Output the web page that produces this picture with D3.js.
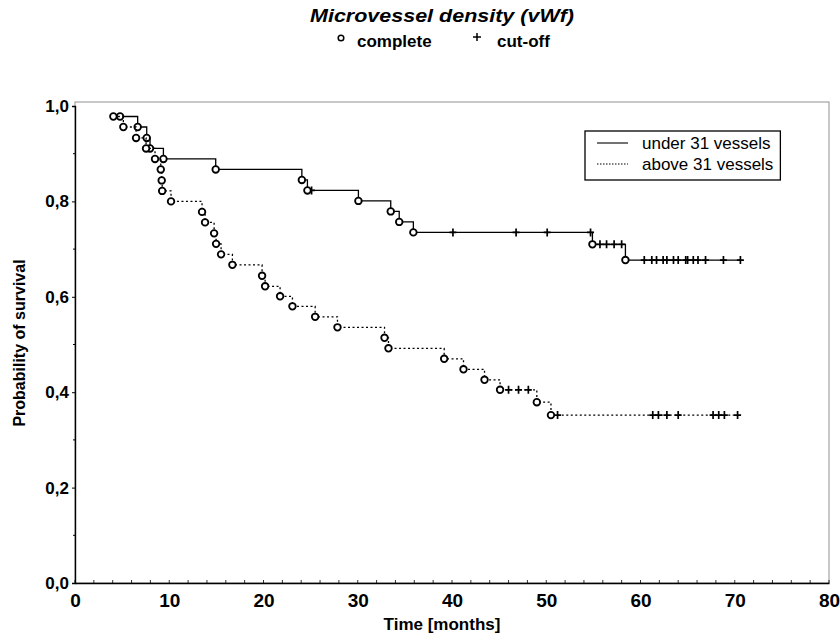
<!DOCTYPE html>
<html>

<head>
  <meta charset="utf-8">
  <title>Microvessel density (vWf)</title>
  <style>
    body { margin: 0; background: #fff; }
    text { font-family: "Liberation Sans", Arial, sans-serif; fill: #000; }
  </style>
</head>

<body>

  <script src="https://cdn.jsdelivr.net/npm/d3@7"></script>
  <script>
    const width = 840;
    const height = 637;

    // under 31 vessels: events (months, survival) and censored times
    const underTimes = [4.78, 6.65, 7.61, 7.96, 9.38, 14.93, 24.07, 24.66, 30.07, 33.5, 34.4, 35.9, 54.9, 58.4];
    const underSurv = [0.978, 0.956, 0.933, 0.911, 0.889, 0.867, 0.845, 0.823, 0.801, 0.779, 0.757, 0.735, 0.710, 0.677];
    const underCens = [25.1, 40.1, 46.8, 50.1, 54.7, 55.7, 56.4, 57.2, 58.0, 60.4, 61.2, 61.7, 62.4, 62.8,
      63.5, 64.0, 64.8, 65.0, 65.6, 66.1, 66.9, 68.8, 70.6];

    // above 31 vessels
    const aboveTimes = [4.07, 5.13, 6.48, 7.54, 8.49, 9.1, 9.2, 9.25, 10.19, 13.48, 13.8, 14.76, 14.97, 15.5,
      16.7, 19.85, 20.17, 21.76, 23.07, 25.48, 27.85, 32.84, 33.26, 39.17, 41.22, 43.45, 45.1, 49.0, 50.5];
    const aboveSurv = [0.978, 0.956, 0.933, 0.911, 0.889, 0.867, 0.844, 0.822, 0.800, 0.778, 0.756, 0.733, 0.711, 0.689,
      0.667, 0.644, 0.622, 0.601, 0.580, 0.558, 0.536, 0.514, 0.492, 0.470, 0.448, 0.426, 0.405, 0.379, 0.352];
    const aboveCens = [46.0, 47.06, 48.1, 51.2, 61.3, 61.9, 62.8, 64.0, 67.7, 68.3, 68.9, 70.3];

    const xTicks = [0, 10, 20, 30, 40, 50, 60, 70, 80];
    const yTicks = [0, 0.2, 0.4, 0.6, 0.8, 1.0];
    const groups = [
      { name: 'under 31 vessels', times: underTimes, surv: underSurv, cens: underCens, dash: null },
      { name: 'above 31 vessels', times: aboveTimes, surv: aboveSurv, cens: aboveCens, dash: '2,2.5' }
    ];

    const x = d3.scaleLinear().domain([0, 80]).range([75, 829]);
    const y = d3.scaleLinear().domain([0, 1]).range([583, 106]);

    const svg = d3.select('body')
      .append('svg')
      .attr('width', width)
      .attr('height', height);

    // frame
    svg.append('rect')
      .attr('x', x(0))
      .attr('y', 102)
      .attr('width', x(80) - x(0))
      .attr('height', y(0) - 102)
      .attr('fill', 'none')
      .attr('stroke', '#777')
      .attr('stroke-width', 0.8);

    // minor ticks
    svg.append('g')
      .selectAll('line')
      .data(d3.range(0, 81, 2))
      .join('line')
      .attr('x1', (d) => x(d))
      .attr('x2', (d) => x(d))
      .attr('y1', y(0))
      .attr('y2', y(0) - 3)
      .attr('stroke', '#000')
      .attr('stroke-width', 0.8);

    const fmt = (d) => d3.format('.1f')(d).replace('.', ',');

    const xAxis = svg.append('g')
      .attr('transform', `translate(0,${y(0)})`)
      .call(d3.axisBottom(x).tickValues(xTicks).tickSize(0).tickPadding(11).tickFormat(d3.format('d')));
    xAxis.select('.domain').attr('stroke', '#000').attr('stroke-width', 1.4);
    xAxis.selectAll('text')
      .style('font-family', '"Liberation Sans Narrow", "Liberation Sans", sans-serif')
      .style('font-weight', 'bold')
      .style('font-size', '19px');

    const yAxis = svg.append('g')
      .attr('transform', `translate(${x(0)},0)`)
      .call(d3.axisLeft(y).tickValues(yTicks).tickSize(3).tickPadding(3).tickFormat(fmt));
    yAxis.select('.domain').attr('stroke', '#000').attr('stroke-width', 1.4);
    yAxis.selectAll('text')
      .style('font-weight', 'bold')
      .style('font-size', '17px');

    svg.append('g')
      .selectAll('line')
      .data([0.1, 0.3, 0.5, 0.7, 0.9])
      .join('line')
      .attr('x1', x(0))
      .attr('x2', x(0) - 2)
      .attr('y1', (d) => y(d))
      .attr('y2', (d) => y(d))
      .attr('stroke', '#000');

    // curves
    const line = d3.line()
      .x((d) => x(d[0]))
      .y((d) => y(d[1]))
      .curve(d3.curveStepAfter);

    const levelAt = (g, t) => g.surv[d3.bisectRight(g.times, t) - 1];

    groups.forEach((g) => {
      const pts = g.times.map((t, i) => [t, g.surv[i]]);
      const end = d3.max(g.cens);
      pts.push([end, levelAt(g, end)]);

      svg.append('path')
        .datum(pts)
        .attr('d', line)
        .attr('fill', 'none')
        .attr('stroke', '#000')
        .attr('stroke-width', 1.3)
        .attr('stroke-dasharray', g.dash);

      svg.append('g')
        .selectAll('path')
        .data(g.cens)
        .join('path')
        .attr('transform', (d) => `translate(${x(d)},${y(levelAt(g, d))})`)
        .attr('d', 'M-3.5,0H3.5M0,-4V4')
        .attr('stroke', '#000')
        .attr('stroke-width', 1.7);

      svg.append('g')
        .selectAll('circle')
        .data(g.times)
        .join('circle')
        .attr('cx', (d) => x(d))
        .attr('cy', (d, i) => y(g.surv[i]))
        .attr('r', 3.3)
        .attr('fill', '#fff')
        .attr('stroke', '#000')
        .attr('stroke-width', 1.8);
    });

    // legend
    const legend = svg.append('g');
    const legBox = legend.append('rect')
      .attr('x', 585)
      .attr('y', 131)
      .attr('height', 49)
      .attr('fill', '#fff')
      .attr('stroke', '#000')
      .attr('stroke-width', 1.3);

    let maxW = 0;
    groups.forEach((g, i) => {
      const ly = 143 + i * 21;
      legend.append('line')
        .attr('x1', 597)
        .attr('x2', 628)
        .attr('y1', ly)
        .attr('y2', ly)
        .attr('stroke', '#000')
        .attr('stroke-width', 1.1)
        .attr('stroke-dasharray', g.dash ? '1.5,1.5' : null);
      const t = legend.append('text')
        .attr('x', 642)
        .attr('y', ly)
        .attr('dy', '0.36em')
        .style('font-size', '17px')
        .text(g.name);
      maxW = Math.max(maxW, t.node().getComputedTextLength());
    });
    legBox.attr('width', 642 + maxW + 7 - 585);

    // titles
    svg.append('text')
      .attr('x', 442)
      .attr('y', 22)
      .attr('text-anchor', 'middle')
      .attr('textLength', 264)
      .attr('lengthAdjust', 'spacingAndGlyphs')
      .style('font-size', '19px')
      .style('font-weight', 'bold')
      .style('font-style', 'italic')
      .text('Microvessel density (vWf)');

    svg.append('circle')
      .attr('cx', 341)
      .attr('cy', 38)
      .attr('r', 2.8)
      .attr('fill', 'none')
      .attr('stroke', '#000')
      .attr('stroke-width', 1.5);
    svg.append('text')
      .attr('x', 357)
      .attr('y', 47)
      .style('font-size', '17px')
      .style('font-weight', 'bold')
      .text('complete');
    svg.append('path')
      .attr('d', 'M473,37H481M477,33V41')
      .attr('stroke', '#000')
      .attr('stroke-width', 1.5);
    svg.append('text')
      .attr('x', 497)
      .attr('y', 47)
      .style('font-size', '17px')
      .style('font-weight', 'bold')
      .text('cut-off');

    svg.append('text')
      .attr('transform', `translate(25,343) rotate(-90)`)
      .attr('text-anchor', 'middle')
      .style('font-size', '16px')
      .style('font-weight', 'bold')
      .text('Probability of survival');

    svg.append('text')
      .attr('x', 442)
      .attr('y', 630)
      .attr('text-anchor', 'middle')
      .style('font-family', '"Liberation Sans Narrow", "Liberation Sans", sans-serif')
      .style('font-size', '17px')
      .style('font-weight', 'bold')
      .text('Time [months]');
  </script>

</body>

</html>
